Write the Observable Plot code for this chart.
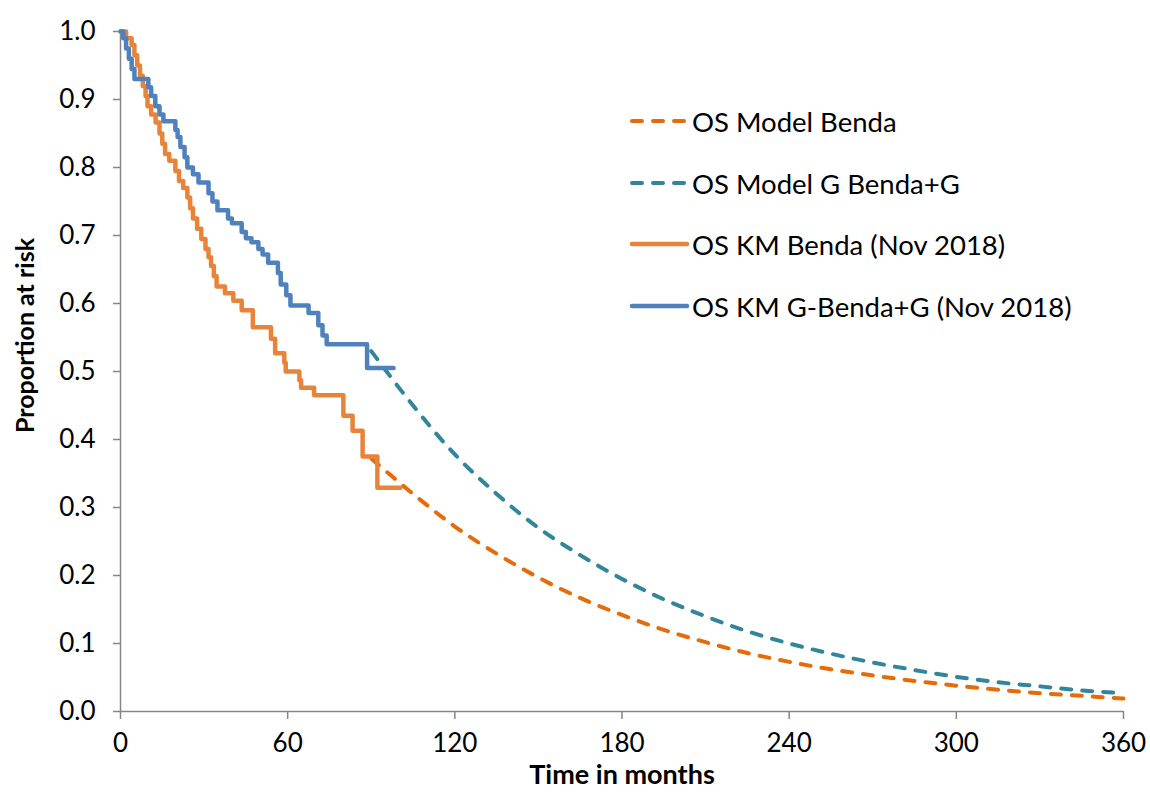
<!DOCTYPE html>
<html>
<head>
<meta charset="utf-8">
<script src="https://cdn.jsdelivr.net/npm/d3@7"></script>
<script src="https://cdn.jsdelivr.net/npm/@observablehq/plot@0.6"></script>
<style>
  html, body { margin: 0; padding: 0; background: #fff; }
  #wrap { position: relative; width: 1150px; height: 794px; font-family: Lato, "Open Sans", sans-serif; }
  #legend { position: absolute; left: 629px; top: 0; }
  .item { position: absolute; left: 0; height: 40px; display: flex; align-items: center; white-space: nowrap; font-size: 27.5px; color: #000; }
  .item svg { margin-right: 3px; }
</style>
</head>
<body>
<div id="wrap"></div>
<script>
// ---- data ----
const xTicks = [0, 60, 120, 180, 240, 300, 360];
const yTicks = [0, 0.1, 0.2, 0.3, 0.4, 0.5, 0.6, 0.7, 0.8, 0.9, 1.0];

// Kaplan-Meier, Benda arm (months, survival)
const kmBendaTime = [0, 2, 4, 5, 6, 7, 8, 9, 9.7, 11, 12.6, 14, 15, 16, 17.5, 19.7, 21, 22.5, 24, 25, 26, 27.5, 29, 30.5, 31.6, 32.5, 33.5, 34.5, 37.5, 40.5, 43.5, 47.5, 54, 55.5, 58.8, 59.3, 64.2, 64.8, 69.5, 80, 83.3, 86.9, 92.2, 100.5];
const kmBendaSurv = [1.0, 0.99, 0.98, 0.965, 0.95, 0.935, 0.92, 0.905, 0.89, 0.878, 0.866, 0.85, 0.835, 0.82, 0.81, 0.795, 0.78, 0.77, 0.756, 0.74, 0.725, 0.71, 0.695, 0.68, 0.668, 0.655, 0.64, 0.625, 0.615, 0.604, 0.59, 0.565, 0.548, 0.527, 0.513, 0.50, 0.487, 0.476, 0.465, 0.435, 0.413, 0.375, 0.329, 0.329];

// Kaplan-Meier, G-Benda+G arm
const kmGBendaTime = [0, 1, 2, 3, 4, 5, 10, 11, 12.5, 14, 15.4, 19.7, 20.5, 21.5, 23, 24, 26, 28, 31.6, 33, 34.8, 38.6, 40, 43.5, 45, 47, 49.5, 51, 53, 56.5, 57.5, 59.5, 61, 67.5, 71, 72.5, 74, 88.5, 98];
const kmGBendaSurv = [1.0, 0.99, 0.975, 0.96, 0.945, 0.93, 0.918, 0.905, 0.89, 0.878, 0.868, 0.855, 0.845, 0.83, 0.815, 0.80, 0.79, 0.778, 0.762, 0.75, 0.737, 0.725, 0.718, 0.705, 0.696, 0.69, 0.68, 0.672, 0.66, 0.645, 0.628, 0.612, 0.597, 0.586, 0.568, 0.553, 0.54, 0.505, 0.505];

// Model extrapolations
const modelTime = [90, 105, 120, 135, 150, 165, 180, 195, 210, 225, 240, 255, 270, 285, 300, 315, 330, 345, 360];
const modelBenda = [0.372, 0.32, 0.272, 0.232, 0.197, 0.167, 0.142, 0.12, 0.102, 0.086, 0.073, 0.062, 0.053, 0.045, 0.038, 0.032, 0.027, 0.023, 0.019];
const modelGBenda = [0.53, 0.45, 0.378, 0.32, 0.27, 0.23, 0.195, 0.165, 0.14, 0.118, 0.1, 0.085, 0.072, 0.061, 0.051, 0.043, 0.037, 0.031, 0.027];

const seriesNames = ["OS Model Benda", "OS Model G Benda+G", "OS KM Benda (Nov 2018)", "OS KM G-Benda+G (Nov 2018)"];
const seriesColors = ["#E46C0A", "#31869B", "#E8843A", "#4F81BD"];
const seriesDashed = [true, true, false, false];

const xLabel = "Time in months";
const yLabel = "Proportion at risk";

// ---- build tables ----
const zip = (t, v) => t.map((x, i) => ({x, y: v[i]}));
const kmB = zip(kmBendaTime, kmBendaSurv);
const kmG = zip(kmGBendaTime, kmGBendaSurv);
const mB = zip(modelTime, modelBenda);
const mG = zip(modelTime, modelGBenda);

const axisColor = "#868686";

const chart = Plot.plot({
  width: 1150,
  height: 794,
  marginLeft: 120,
  marginRight: 27,
  marginTop: 31,
  marginBottom: 83,
  style: {fontFamily: "Lato, 'Open Sans', sans-serif", fontSize: "26px", color: "#000", background: "#fff"},
  x: {domain: [0, 360]},
  y: {domain: [0, 1]},
  marks: [
    Plot.axisX({ticks: xTicks, tickSize: 8, tickPadding: 14, stroke: axisColor, strokeWidth: 1.5, label: null, fontSize: 26}),
    Plot.axisY({ticks: yTicks, tickFormat: d3.format(".1f"), tickSize: 7, tickPadding: 18, stroke: axisColor, strokeWidth: 1.5, label: null, fontSize: 26}),
    Plot.ruleX([0], {stroke: axisColor, strokeWidth: 1.5}),
    Plot.ruleY([0], {stroke: axisColor, strokeWidth: 1.5}),
    Plot.line(mB, {x: "x", y: "y", stroke: seriesColors[0], strokeWidth: 4, strokeDasharray: "10,11", strokeLinecap: "round", curve: "monotone-x"}),
    Plot.line(mG, {x: "x", y: "y", stroke: seriesColors[1], strokeWidth: 4, strokeDasharray: "10,11", strokeLinecap: "round", curve: "monotone-x"}),
    Plot.line(kmB, {x: "x", y: "y", stroke: seriesColors[2], strokeWidth: 4.5, curve: "step-after"}),
    Plot.line(kmG, {x: "x", y: "y", stroke: seriesColors[3], strokeWidth: 4.5, curve: "step-after"}),
    Plot.text([xLabel], {text: d => d, frameAnchor: "bottom", textAnchor: "middle", lineAnchor: "middle", dy: 64, fontWeight: "bold", fontSize: 27}),
    Plot.text([yLabel], {text: d => d, frameAnchor: "left", textAnchor: "middle", dx: -95, dy: -36, rotate: -90, fontWeight: "bold", fontSize: 25})
  ]
});

const wrap = document.getElementById("wrap");
wrap.appendChild(chart);

// legend (HTML overlay)
const legend = document.createElement("div");
legend.id = "legend";
const centers = [121, 183, 244, 306];
seriesNames.forEach((name, i) => {
  const item = document.createElement("div");
  item.className = "item";
  item.style.top = (centers[i] - 20) + "px";
  const dash = seriesDashed[i] ? 'stroke-dasharray="10,11" stroke-linecap="round"' : 'stroke-linecap="round"';
  item.innerHTML = `<svg width="60" height="10"><line x1="3" y1="5" x2="58" y2="5" stroke="${seriesColors[i]}" stroke-width="${seriesDashed[i] ? 4 : 4.5}" ${dash}/></svg><span>${name}</span>`;
  legend.appendChild(item);
});
wrap.appendChild(legend);
</script>
</body>
</html>
